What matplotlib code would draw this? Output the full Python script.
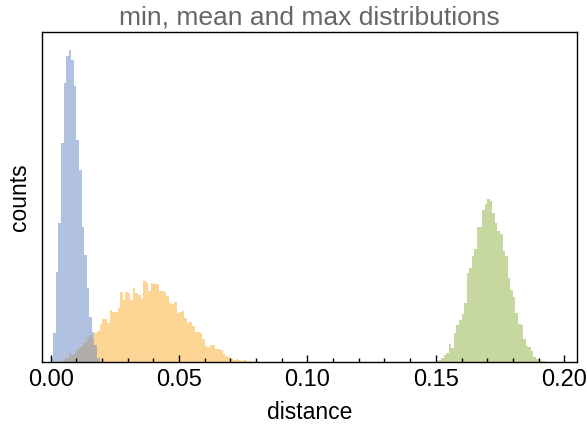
import numpy as np
import matplotlib
matplotlib.use("Agg")
import matplotlib.pyplot as plt
from matplotlib.ticker import MultipleLocator

plt.rcParams['font.family'] = ['Liberation Sans', 'DejaVu Sans']

# histogram bin width (distance units) shared by all three distributions
bin_width = 0.001

# min distances: counts per bin, first bin starts at 0.000
min_start = 0.000
min_counts = [4, 29, 90, 139, 219, 279, 306, 312, 302, 276, 222, 192, 135, 107,
              74, 45, 30, 17, 4]

# mean distances: counts per bin, first bin starts at 0.004
mean_start = 0.004
mean_counts = [1, 3, 4, 9, 7, 8, 12, 15, 17, 20, 25, 27, 24,
               29, 31, 38, 43, 43, 39, 52, 50, 50, 54, 70, 62, 70, 69, 62, 74,
               69, 67, 63, 81, 79, 71, 79, 78, 78, 71, 71, 70, 66, 59, 58, 60,
               49, 50, 51, 44, 39, 40, 36, 30, 30, 29, 23, 16, 15, 17, 17, 13,
               13, 12, 8, 6, 5, 4, 2, 3, 2, 1, 2, 1, 1, 1, 0, 1]

# max distances: counts per bin, first bin starts at 0.150
max_start = 0.150
max_counts = [1, 2, 4, 7, 9, 18, 14, 29, 37, 42, 48, 59, 89, 94, 106, 113,
              135, 135, 152, 158, 163, 161, 149, 139, 131, 128, 111, 106, 84,
              72, 65, 49, 38, 37, 23, 16, 15, 11, 5, 3, 2, 1, 1]

fig = plt.figure(figsize=(5.87, 4.25), dpi=100)
ax = fig.add_axes([0.0716, 0.148, 0.911, 0.777])

series = [
    (mean_start, mean_counts, '#fbaa2a'),
    (max_start, max_counts, '#8fb040'),
    (min_start, min_counts, '#6587c2'),
]
for start, counts, color in series:
    left = start + bin_width * np.arange(len(counts))
    ax.bar(left, counts, width=bin_width, align='edge', color=color,
           alpha=0.5, linewidth=0)

ax.set_xlim(-0.0034, 0.2049)
ax.set_ylim(0, 330)
ax.xaxis.set_major_locator(MultipleLocator(0.05))
ax.xaxis.set_minor_locator(MultipleLocator(0.01))
ax.tick_params(axis='x', which='major', direction='in', length=5, width=1,
               labelsize=17, top=False, pad=5)
ax.tick_params(axis='x', which='minor', direction='in', length=3, width=1,
               top=False)
ax.tick_params(axis='y', left=False, labelleft=False)
for spine in ax.spines.values():
    spine.set_linewidth(1)

ax.set_xlabel('distance', fontsize=16.5, labelpad=7)
ax.set_ylabel('counts', fontsize=16.5, labelpad=8)
ax.set_title('min, mean and max distributions', fontsize=19, color='#666666',
             pad=5)

fig.savefig('out.png', dpi=100)
